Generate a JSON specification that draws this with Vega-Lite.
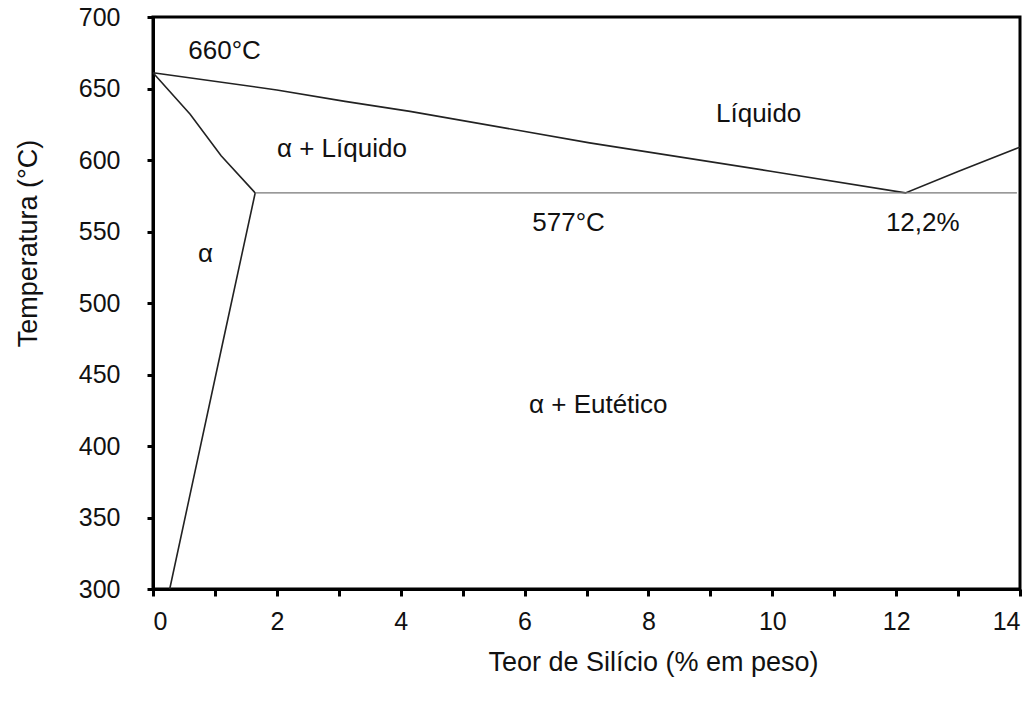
{
  "$schema": "https://vega.github.io/schema/vega-lite/v6.json",
  "autosize": "none",
  "width": 867,
  "height": 572,
  "padding": {"left": 153, "top": 17, "right": 12, "bottom": 112},
  "background": "white",
  "config": {
    "font": "Liberation Sans",
    "view": {"stroke": "black", "strokeWidth": 3},
    "axis": {"grid": false, "domainColor": "black", "domainWidth": 3, "tickColor": "black", "tickWidth": 3, "labelColor": "#111111", "titleColor": "#111111", "labelFont": "Liberation Sans", "titleFont": "Liberation Sans", "labelFontSize": 25, "titleFontSize": 27, "titleFontWeight": "normal"}
  },
  "datasets": {
    "lines": [
      {"seg": "liquidus", "o": 1, "x": 0, "T": 661},
      {"seg": "liquidus", "o": 2, "x": 2.0, "T": 649},
      {"seg": "liquidus", "o": 3, "x": 3.1, "T": 641},
      {"seg": "liquidus", "o": 4, "x": 4.15, "T": 634},
      {"seg": "liquidus", "o": 5, "x": 7.05, "T": 612},
      {"seg": "liquidus", "o": 6, "x": 10.0, "T": 592},
      {"seg": "liquidus", "o": 7, "x": 12.15, "T": 577},
      {"seg": "liquidus", "o": 8, "x": 13.0, "T": 592},
      {"seg": "liquidus", "o": 9, "x": 14.0, "T": 609},
      {"seg": "solidus", "o": 1, "x": 0, "T": 661},
      {"seg": "solidus", "o": 2, "x": 0.6, "T": 632},
      {"seg": "solidus", "o": 3, "x": 1.1, "T": 603},
      {"seg": "solidus", "o": 4, "x": 1.65, "T": 577},
      {"seg": "solidus", "o": 5, "x": 1.12, "T": 471},
      {"seg": "solidus", "o": 6, "x": 0.27, "T": 300},
      {"seg": "eutectic", "o": 1, "x": 1.65, "T": 577},
      {"seg": "eutectic", "o": 2, "x": 13.95, "T": 577}
    ],
    "labels": [
      {"label": "660°C", "x": 1.155, "T": 676},
      {"label": "Líquido", "x": 9.78, "T": 632},
      {"label": "α + Líquido", "x": 3.05, "T": 608},
      {"label": "577°C", "x": 6.71, "T": 556},
      {"label": "12,2%", "x": 12.43, "T": 556},
      {"label": "α", "x": 0.85, "T": 534},
      {"label": "α + Eutético", "x": 7.19, "T": 429}
    ]
  },
  "layer": [
    {
      "data": {"name": "lines"},
      "transform": [{"filter": "datum.seg != 'eutectic'"}],
      "mark": {"type": "line", "color": "#222222", "strokeWidth": 1.6},
      "encoding": {
        "x": {"field": "x", "type": "quantitative", "scale": {"domain": [0, 14], "nice": false}, "axis": {"values": [0,1,2,3,4,5,6,7,8,9,10,11,12,13,14], "format": "d", "labelExpr": "datum.value % 2 == 0 ? datum.label : ''", "tickSize": 7, "labelPadding": 13, "title": "Teor de Silício (% em peso)", "titleX": 500, "titleY": 73, "titleBaseline": "middle", "titleAnchor": "middle", "titleAlign": "center"}},
        "y": {"field": "T", "type": "quantitative", "scale": {"domain": [300, 700], "nice": false, "zero": false}, "axis": {"values": [300,325,350,375,400,425,450,475,500,525,550,575,600,625,650,675,700], "format": "d", "labelExpr": "datum.value % 50 == 0 ? datum.label : ''", "tickSize": 6, "labelPadding": 27, "title": "Temperatura (°C)", "titleX": -125, "titleY": 226, "titleAngle": -90, "titleBaseline": "middle", "titleAnchor": "middle", "titleAlign": "center"}},
        "detail": {"field": "seg"},
        "order": {"field": "o", "type": "quantitative"}
      }
    },
    {
      "data": {"name": "lines"},
      "transform": [{"filter": "datum.seg == 'eutectic'"}],
      "mark": {"type": "line", "color": "#777777", "strokeWidth": 1.2},
      "encoding": {
        "x": {"field": "x", "type": "quantitative"},
        "y": {"field": "T", "type": "quantitative"},
        "order": {"field": "o", "type": "quantitative"}
      }
    },
    {
      "data": {"name": "labels"},
      "mark": {"type": "text", "fontSize": 26, "color": "#111111", "font": "Liberation Sans"},
      "encoding": {
        "x": {"field": "x", "type": "quantitative"},
        "y": {"field": "T", "type": "quantitative"},
        "text": {"field": "label"}
      }
    }
  ]
}
